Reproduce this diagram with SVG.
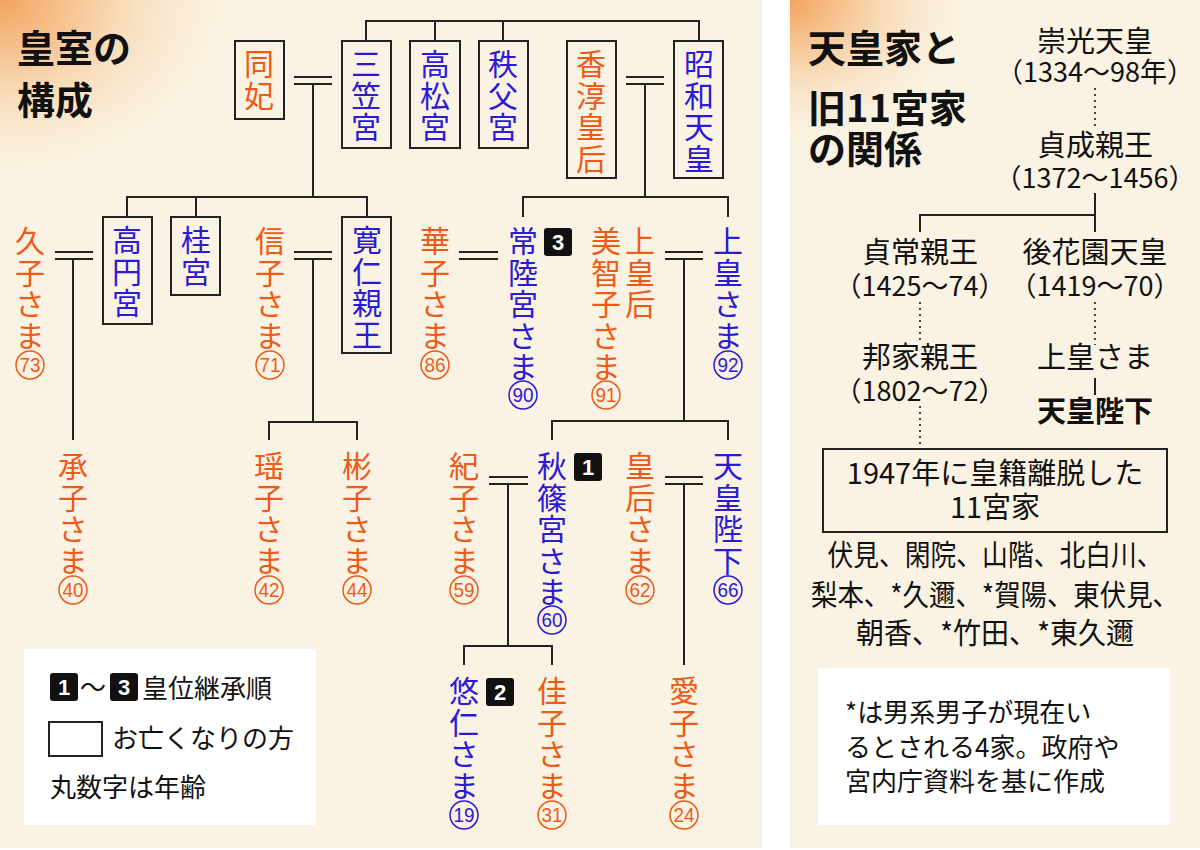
<svg xmlns="http://www.w3.org/2000/svg" width="1200" height="850" viewBox="0 0 1200 850">
<defs>
<radialGradient id="g1" cx="0" cy="0" r="1" gradientUnits="userSpaceOnUse" gradientTransform="translate(0,0) scale(260,200)">
<stop offset="0" stop-color="#f3a45f"/><stop offset="0.45" stop-color="#f8d9b4"/><stop offset="1" stop-color="#faf3e3" stop-opacity="0"/>
</radialGradient>
<radialGradient id="g2" cx="0" cy="0" r="1" gradientUnits="userSpaceOnUse" gradientTransform="translate(790,0) scale(200,160)">
<stop offset="0" stop-color="#f3a45f"/><stop offset="0.45" stop-color="#f8d9b4"/><stop offset="1" stop-color="#faf3e3" stop-opacity="0"/>
</radialGradient>
</defs>
<style>
text{font-family:"Noto Sans CJK JP","Noto Sans",sans-serif}
.v{writing-mode:vertical-rl;font-size:30px;letter-spacing:1.5px}
.o{fill:#ee5a17}.b{fill:#2b1ad6}
.box{fill:none;stroke:#222;stroke-width:2}
.ln{fill:none;stroke:#222;stroke-width:2}
.dt{fill:none;stroke:#444;stroke-width:2;stroke-dasharray:2 4}
.co{fill:none;stroke:#ee5a17;stroke-width:1.5}.cb{fill:none;stroke:#2b1ad6;stroke-width:1.5}
.n{font-family:"Liberation Sans",sans-serif;font-size:21px;text-anchor:middle}
.t{font-size:38px;font-weight:bold;fill:#111}
.r{font-size:29px;fill:#111;text-anchor:middle}
.p{font-size:27px;fill:#111;text-anchor:middle}
.bw{fill:#fff;font-family:"Liberation Sans",sans-serif;font-weight:bold;font-size:22px;text-anchor:middle}
.s{font-size:26px;fill:#111}
</style>
<rect width="1200" height="850" fill="#fff"/>
<rect x="0" y="0" width="762" height="848" fill="#faf3e3"/>
<rect x="0" y="0" width="762" height="848" fill="url(#g1)"/>
<rect x="790" y="0" width="410" height="848" fill="#faf3e3"/>
<rect x="790" y="0" width="410" height="848" fill="url(#g2)"/>

<text class="t" x="17" y="62">皇室の</text>
<text class="t" x="17" y="114">構成</text>

<g id="connectors">
<polyline class="ln" points="366,41 366,21 699,21 699,41"/>
<line class="ln" x1="435" y1="21" x2="435" y2="41"/>
<line class="ln" x1="503" y1="21" x2="503" y2="41"/>
<line class="ln" x1="294" y1="77" x2="332" y2="77"/><line class="ln" x1="294" y1="84" x2="332" y2="84"/>
<line class="ln" x1="313" y1="84" x2="313" y2="197"/>
<polyline class="ln" points="127,217 127,197 367,197 367,217"/>
<line class="ln" x1="196" y1="197" x2="196" y2="217"/>
<line class="ln" x1="626" y1="77" x2="664" y2="77"/><line class="ln" x1="626" y1="84" x2="664" y2="84"/>
<line class="ln" x1="645" y1="84" x2="645" y2="197"/>
<polyline class="ln" points="523,217 523,197 728,197 728,217"/>
<line class="ln" x1="55" y1="252" x2="93" y2="252"/><line class="ln" x1="55" y1="259" x2="93" y2="259"/>
<line class="ln" x1="73" y1="259" x2="73" y2="440"/>
<line class="ln" x1="294" y1="252" x2="332" y2="252"/><line class="ln" x1="294" y1="259" x2="332" y2="259"/>
<line class="ln" x1="313" y1="259" x2="313" y2="422"/>
<polyline class="ln" points="269,440 269,422 357,422 357,440"/>
<line class="ln" x1="459" y1="252" x2="498" y2="252"/><line class="ln" x1="459" y1="259" x2="498" y2="259"/>
<line class="ln" x1="665" y1="252" x2="703" y2="252"/><line class="ln" x1="665" y1="259" x2="703" y2="259"/>
<line class="ln" x1="684" y1="259" x2="684" y2="421"/>
<polyline class="ln" points="552,440 552,421 728,421 728,440"/>
<line class="ln" x1="489" y1="477" x2="528" y2="477"/><line class="ln" x1="489" y1="484" x2="528" y2="484"/>
<line class="ln" x1="508" y1="484" x2="508" y2="646"/>
<polyline class="ln" points="464,665 464,646 552,646 552,665"/>
<line class="ln" x1="665" y1="477" x2="703" y2="477"/><line class="ln" x1="665" y1="484" x2="703" y2="484"/>
<line class="ln" x1="684" y1="484" x2="684" y2="665"/>
<line class="dt" x1="1095" y1="88" x2="1095" y2="130"/>
<line class="ln" x1="1095" y1="193" x2="1095" y2="232"/>
<polyline class="ln" points="920,232 920,215 1095,215"/>
<line class="dt" x1="920" y1="302" x2="920" y2="340"/>
<line class="dt" x1="1095" y1="302" x2="1095" y2="345"/>
<line class="ln" x1="1095" y1="378" x2="1095" y2="395"/>
<line class="dt" x1="920" y1="406" x2="920" y2="447"/>
</g>

<g id="dohi"><rect class="box" x="235" y="41" width="49" height="78"/><text class="v o" x="259" y="49">同妃</text></g>
<g id="mikasa"><rect class="box" x="342" y="41" width="49" height="107"/><text class="v b" x="366" y="49">三笠宮</text></g>
<g id="takamatsu"><rect class="box" x="410" y="41" width="50" height="107"/><text class="v b" x="435" y="49">高松宮</text></g>
<g id="chichibu"><rect class="box" x="479" y="41" width="49" height="107"/><text class="v b" x="503" y="49">秩父宮</text></g>
<g id="kojun"><rect class="box" x="567" y="41" width="49" height="137"/><text class="v o" x="591" y="49">香淳皇后</text></g>
<g id="showa"><rect class="box" x="674" y="41" width="49" height="137"/><text class="v b" x="699" y="49">昭和天皇</text></g>

<g id="takamado"><rect class="box" x="103" y="217" width="49" height="107"/><text class="v b" x="127" y="225">高円宮</text></g>
<g id="katsura"><rect class="box" x="171" y="217" width="49" height="78"/><text class="v b" x="196" y="225">桂宮</text></g>
<g id="tomohito"><rect class="box" x="342" y="217" width="49" height="136"/><text class="v b" x="367" y="225">寛仁親王</text></g>

<g id="hisako"><text class="v o" x="30" y="226">久子さま</text><circle class="co" cx="30" cy="365" r="14"/><text class="n o" x="30" y="372" textLength="21" lengthAdjust="spacingAndGlyphs">73</text></g>
<g id="nobuko"><text class="v o" x="270" y="226">信子さま</text><circle class="co" cx="270" cy="365" r="14"/><text class="n o" x="270" y="372" textLength="21" lengthAdjust="spacingAndGlyphs">71</text></g>
<g id="hanako"><text class="v o" x="435" y="226">華子さま</text><circle class="co" cx="435" cy="365" r="14"/><text class="n o" x="435" y="372" textLength="21" lengthAdjust="spacingAndGlyphs">86</text></g>
<g id="hitachi"><text class="v b" x="523" y="226">常陸宮さま</text><circle class="cb" cx="523" cy="395" r="14"/><text class="n b" x="523" y="402" textLength="21" lengthAdjust="spacingAndGlyphs">90</text>
<rect x="544" y="228" width="28" height="28" rx="3" fill="#111"/><text class="bw" x="558" y="250">3</text></g>
<g id="michiko"><text class="v o" x="606" y="226">美智子さま</text><text class="v o" x="640" y="226">上皇后</text><circle class="co" cx="606" cy="395" r="14"/><text class="n o" x="606" y="402" textLength="21" lengthAdjust="spacingAndGlyphs">91</text></g>
<g id="joko"><text class="v b" x="728" y="226">上皇さま</text><circle class="cb" cx="728" cy="365" r="14"/><text class="n b" x="728" y="372" textLength="21" lengthAdjust="spacingAndGlyphs">92</text></g>

<g id="tsuguko"><text class="v o" x="73" y="451">承子さま</text><circle class="co" cx="73" cy="590" r="14"/><text class="n o" x="73" y="597" textLength="21" lengthAdjust="spacingAndGlyphs">40</text></g>
<g id="yoko"><text class="v o" x="269" y="451">瑶子さま</text><circle class="co" cx="269" cy="590" r="14"/><text class="n o" x="269" y="597" textLength="21" lengthAdjust="spacingAndGlyphs">42</text></g>
<g id="akiko"><text class="v o" x="357" y="451">彬子さま</text><circle class="co" cx="357" cy="590" r="14"/><text class="n o" x="357" y="597" textLength="21" lengthAdjust="spacingAndGlyphs">44</text></g>
<g id="kiko"><text class="v o" x="464" y="451">紀子さま</text><circle class="co" cx="464" cy="590" r="14"/><text class="n o" x="464" y="597" textLength="21" lengthAdjust="spacingAndGlyphs">59</text></g>
<g id="akishino"><text class="v b" x="552" y="451">秋篠宮さま</text><circle class="cb" cx="552" cy="620" r="14"/><text class="n b" x="552" y="627" textLength="21" lengthAdjust="spacingAndGlyphs">60</text>
<rect x="574" y="453" width="28" height="28" rx="3" fill="#111"/><text class="bw" x="588" y="475">1</text></g>
<g id="kogo"><text class="v o" x="640" y="451">皇后さま</text><circle class="co" cx="640" cy="590" r="14"/><text class="n o" x="640" y="597" textLength="21" lengthAdjust="spacingAndGlyphs">62</text></g>
<g id="tenno"><text class="v b" x="728" y="451">天皇陛下</text><circle class="cb" cx="728" cy="590" r="14"/><text class="n b" x="728" y="597" textLength="21" lengthAdjust="spacingAndGlyphs">66</text></g>

<g id="hisahito"><text class="v b" x="464" y="676">悠仁さま</text><circle class="cb" cx="464" cy="815" r="14"/><text class="n b" x="464" y="822" textLength="21" lengthAdjust="spacingAndGlyphs">19</text>
<rect x="486" y="678" width="28" height="28" rx="3" fill="#111"/><text class="bw" x="500" y="700">2</text></g>
<g id="kako"><text class="v o" x="552" y="676">佳子さま</text><circle class="co" cx="552" cy="815" r="14"/><text class="n o" x="552" y="822" textLength="21" lengthAdjust="spacingAndGlyphs">31</text></g>
<g id="aiko"><text class="v o" x="684" y="676">愛子さま</text><circle class="co" cx="684" cy="815" r="14"/><text class="n o" x="684" y="822" textLength="21" lengthAdjust="spacingAndGlyphs">24</text></g>

<g id="legend">
<rect x="24" y="649" width="292" height="176" fill="#fff"/>
<rect x="50" y="673" width="28" height="28" rx="3" fill="#111"/><text class="bw" x="64" y="695">1</text>
<text class="s" x="80" y="697">～</text>
<rect x="110" y="673" width="28" height="28" rx="3" fill="#111"/><text class="bw" x="124" y="695">3</text>
<text class="s" x="142" y="698">皇位継承順</text>
<rect x="49" y="722" width="53" height="34" fill="none" stroke="#222" stroke-width="2"/>
<text class="s" x="112" y="748">お亡くなりの方</text>
<text class="s" x="50" y="797">丸数字は年齢</text>
</g>

<text class="t" x="808" y="62">天皇家と</text>
<text class="t" x="808" y="122">旧11宮家</text>
<text class="t" x="808" y="163">の関係</text>

<g id="suko"><text class="r" x="1095" y="52">崇光天皇</text><text class="p" x="1095" y="82">（1334～98年）</text></g>
<g id="sadafusa"><text class="r" x="1095" y="156">貞成親王</text><text class="p" x="1095" y="188">（1372～1456）</text></g>
<g id="sadatsune"><text class="r" x="920" y="263">貞常親王</text><text class="p" x="920" y="296">（1425～74）</text></g>
<g id="gohanazono"><text class="r" x="1095" y="263">後花園天皇</text><text class="p" x="1095" y="296">（1419～70）</text></g>
<g id="kuniie"><text class="r" x="920" y="368">邦家親王</text><text class="p" x="920" y="401">（1802～72）</text></g>
<g id="joko2"><text class="r" x="1095" y="368">上皇さま</text></g>
<g id="tenno2"><text class="r" x="1095" y="422" font-weight="bold">天皇陛下</text></g>
<g id="eleven">
<rect x="823" y="449" width="344" height="83" fill="none" stroke="#222" stroke-width="2"/>
<text class="r" x="995" y="484">1947年に皇籍離脱した</text>
<text class="r" x="995" y="518">11宮家</text>
</g>
<text class="r" x="995" y="566" textLength="335" lengthAdjust="spacingAndGlyphs">伏見、閑院、山階、北白川、</text>
<text class="r" x="995" y="606" textLength="368" lengthAdjust="spacingAndGlyphs">梨本、*久邇、*賀陽、東伏見、</text>
<text class="r" x="995" y="644" textLength="278" lengthAdjust="spacingAndGlyphs">朝香、*竹田、*東久邇</text>
<g id="note">
<rect x="818" y="668" width="352" height="157" fill="#fff"/>
<text class="s" x="845" y="722">*は男系男子が現在い</text>
<text class="s" x="845" y="757">るとされる4家。政府や</text>
<text class="s" x="845" y="791">宮内庁資料を基に作成</text>
</g>
</svg>
